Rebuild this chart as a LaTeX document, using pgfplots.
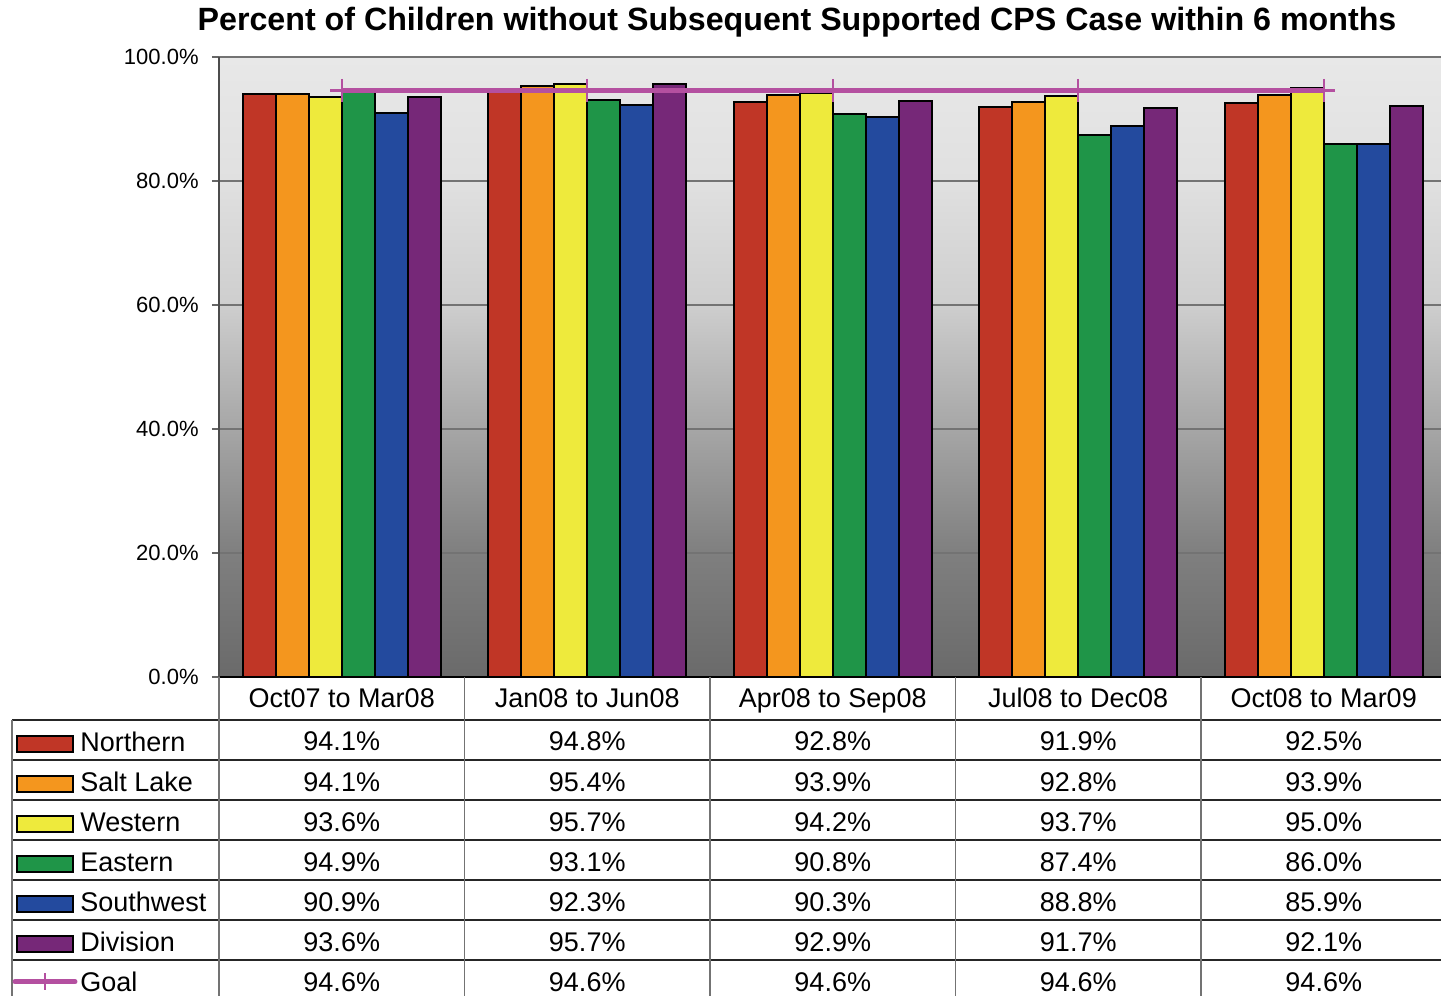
\documentclass[border=0pt]{standalone}
\usepackage{pgfplots}
\pgfplotsset{compat=1.18}
\usepackage{pgfplotstable}
\usepackage{fontspec}
\setmainfont{Liberation Sans}
\pgfkeys{/pgf/number format/assume math mode=true}

% series colours
\definecolor{cN}{RGB}{192,54,38}
\definecolor{cS}{RGB}{244,150,30}
\definecolor{cW}{RGB}{238,234,60}
\definecolor{cE}{RGB}{31,149,72}
\definecolor{cSW}{RGB}{35,74,158}
\definecolor{cD}{RGB}{118,40,120}
\definecolor{cG}{RGB}{180,80,160}

% plot-area background: light at the top, dark at the bottom
\definecolor{bg0}{RGB}{106,106,106}
\definecolor{bg20}{RGB}{127,127,127}
\definecolor{bg40}{RGB}{166,166,166}
\definecolor{bg60}{RGB}{206,206,206}
\definecolor{bg80}{RGB}{224,224,224}
\definecolor{bg100}{RGB}{232,232,232}
\pgfdeclareverticalshading{chartbg}{100bp}{color(0bp)=(bg0); color(25bp)=(bg0);
  color(35bp)=(bg20); color(45bp)=(bg40); color(55bp)=(bg60);
  color(65bp)=(bg80); color(75bp)=(bg100); color(100bp)=(bg100)}

\pgfplotstableread{
x Northern SaltLake Western Eastern Southwest Division Goal
0 94.1 94.1 93.6 94.9 90.9 93.6 94.6
1 94.8 95.4 95.7 93.1 92.3 95.7 94.6
2 92.8 93.9 94.2 90.8 90.3 92.9 94.6
3 91.9 92.8 93.7 87.4 88.8 91.7 94.6
4 92.5 93.9 95.0 86.0 85.9 92.1 94.6
}\datatable

\newcommand\tablefont{\fontsize{13.5}{16}\selectfont}
\newcommand\colw{122.75pt}

\begin{document}
\begin{tikzpicture}
\useasboundingbox (-109.5pt,-159.5pt) rectangle (611pt,338.5pt);
\begin{axis}[
  at={(0,0)}, anchor=south west,
  scale only axis, width=613.75pt, height=310pt,
  xmin=-0.5, xmax=4.5, ymin=0, ymax=100,
  ybar=0pt, bar width=16.5pt,
  axis x line*=bottom, axis y line*=left,
  x axis line style={black, line width=1pt},
  y axis line style={black!70, line width=1pt},
  axis background/.style={shading=chartbg},
  xtick={0,...,4},
  xticklabels={Oct07 to Mar08, Jan08 to Jun08, Apr08 to Sep08, Jul08 to Dec08, Oct08 to Mar09},
  x tick style={draw=none},
  xticklabel style={font=\tablefont, anchor=base, inner sep=0pt, yshift=-11.8pt},
  ytick={0,20,...,100},
  y tick style={black!60, line width=0.8pt},
  tick align=outside, major tick length=3.5pt,
  ymajorgrids, major grid style={black!55, line width=0.8pt},
  yticklabel={\pgfmathprintnumber[fixed,fixed zerofill,precision=1]{\tick}\%},
  yticklabel style={font=\fontsize{11}{13}\selectfont, inner sep=0pt, xshift=-6.5pt},
]
\addplot[ybar, fill=cN, draw=black, line width=1pt] table[x=x,y=Northern]{\datatable};
\addplot[ybar, fill=cS, draw=black, line width=1pt] table[x=x,y=SaltLake]{\datatable};
\addplot[ybar, fill=cW, draw=black, line width=1pt] table[x=x,y=Western]{\datatable};
\addplot[ybar, fill=cE, draw=black, line width=1pt] table[x=x,y=Eastern]{\datatable};
\addplot[ybar, fill=cSW, draw=black, line width=1pt] table[x=x,y=Southwest]{\datatable};
\addplot[ybar, fill=cD, draw=black, line width=1pt] table[x=x,y=Division]{\datatable};
\addplot[sharp plot, bar shift=0pt, color=cG, line width=2.6pt,
  mark=+, mark size=5.8pt, mark options={line width=1.1pt}] table[x=x,y=Goal]{\datatable};
\end{axis}

% chart title
\node[anchor=base, font=\fontsize{16.1}{19}\selectfont\bfseries] at (289pt,323pt)
  {Percent of Children without Subsequent Supported CPS Case within 6 months};

% data table grid
\foreach \i in {0,...,6}
  \draw[black!85, line width=0.8pt] (-103.5pt,{-21.5pt-20pt*\i}) -- (614pt,{-21.5pt-20pt*\i});
\foreach \k in {0,...,4}
  \draw[black!55, line width=0.8pt] ({\colw*\k},0pt) -- ({\colw*\k},-162pt);
\draw[black!55, line width=0.8pt] (-103.5pt,-21.5pt) -- (-103.5pt,-162pt);

% row keys, names and values
\foreach \col/\lab/\clr [count=\i from 0] in {Northern/Northern/cN, SaltLake/Salt Lake/cS,
    Western/Western/cW, Eastern/Eastern/cE, Southwest/Southwest/cSW, Division/Division/cD} {
  \filldraw[fill=\clr, draw=black, line width=1pt]
    (-101pt,{-29.35pt-20pt*\i}) rectangle (-73pt,{-37.35pt-20pt*\i});
  \node[anchor=base west, inner sep=0pt, font=\tablefont] at (-69.5pt,{-37.2pt-20pt*\i}) {\lab};
  \foreach \r in {0,...,4}
    \node[anchor=base, inner sep=0pt, font=\tablefont] at ({\colw*(\r+0.5)},{-37pt-20pt*\i})
      {\pgfplotstablegetelem{\r}{\col}\of\datatable\pgfmathprintnumber[fixed,fixed zerofill,precision=1]{\pgfplotsretval}\%};
}
% goal row
\draw[cG, line width=2.5pt, line cap=round] (-102pt,-152.4pt) -- (-72pt,-152.4pt);
\draw[cG, line width=1pt] (-87pt,-148.1pt) -- (-87pt,-156.7pt);
\node[anchor=base west, inner sep=0pt, font=\tablefont] at (-69.5pt,-157.2pt) {Goal};
\foreach \r in {0,...,4}
  \node[anchor=base, inner sep=0pt, font=\tablefont] at ({\colw*(\r+0.5)},-157pt)
    {\pgfplotstablegetelem{\r}{Goal}\of\datatable\pgfmathprintnumber[fixed,fixed zerofill,precision=1]{\pgfplotsretval}\%};
\end{tikzpicture}
\end{document}
